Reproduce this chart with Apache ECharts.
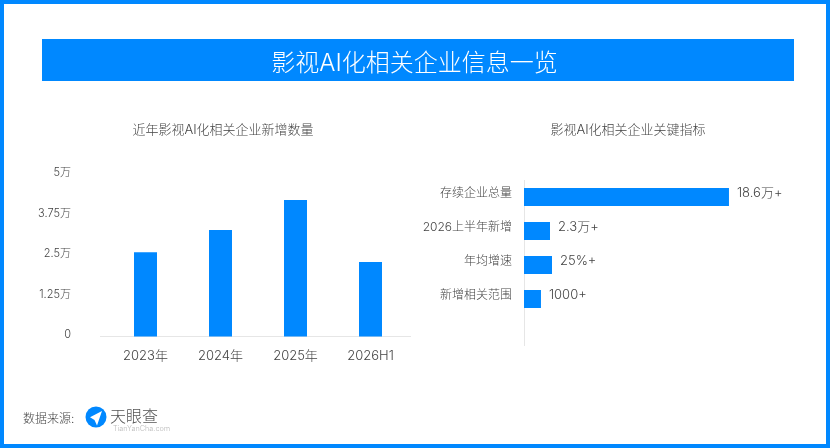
<!DOCTYPE html>
<html lang="zh-CN">

<head>
  <meta charset="UTF-8">
  <title>影视AI化相关企业信息一览</title>
  <style>
    html, body { margin: 0; padding: 0; background: #fff; }
    #chart { width: 830px; height: 448px; }
  </style>
</head>

<body>
  <div id="chart"></div>
  <script src="https://cdn.jsdelivr.net/npm/echarts@6/dist/echarts.min.js"></script>
  <script>
    var years = ['2023年', '2024年', '2025年', '2026H1'];
    var newCompanies = [2.6, 3.29, 4.21, 2.3];
    var yTicks = { 0: '0', 1.25: '1.25万', 2.5: '2.5万', 3.75: '3.75万', 5: '5万' };

    // the last category is empty, the source leaves a gap under the four bars
    var metrics = ['存续企业总量', '2026上半年新增', '年均增速', '新增相关范围', ''];
    var metricBars = [18.6, 2.36, 2.54, 1.54];
    var metricLabels = ['18.6万+', '2.3万+', '25%+', '1000+'];

    var BLUE = '#0088ff';
    var FONT = 'Inter, "Noto Sans CJK SC", sans-serif';
    var TEXT = '#444';
    var WEIGHT = 300;

    var myChart = echarts.init(document.querySelector('#chart'));

    function titleStyle(color, size) {
      return { color: color, fontSize: size, fontWeight: WEIGHT, fontFamily: FONT };
    }

    var option = {
      animation: false,
      textStyle: { fontFamily: FONT },
      title: [
        { text: '影视AI化相关企业信息一览', left: 414.5, top: 52, padding: 0, textAlign: 'center',
          textStyle: titleStyle('#fff', 24) },
        { text: '近年影视AI化相关企业新增数量', left: 223, top: 124, padding: 0, textAlign: 'center',
          textStyle: titleStyle(TEXT, 13) },
        { text: '影视AI化相关企业关键指标', left: 628, top: 124, padding: 0, textAlign: 'center',
          textStyle: titleStyle(TEXT, 13) },
        { text: '数据来源:', left: 23, top: 413, padding: 0,
          textStyle: titleStyle(TEXT, 12) },
        { text: '天眼查', left: 110, top: 409, padding: 0,
          textStyle: titleStyle('#555', 16) },
        { text: 'TianYanCha.com', left: 113, top: 425, padding: 0,
          textStyle: titleStyle('#bbb', 7.3) }
      ],
      grid: [
        { left: 108, top: 174.5, width: 300, height: 162 },
        { left: 524, top: 180, width: 220.4, height: 170 }
      ],
      xAxis: [
        {
          gridIndex: 0,
          type: 'category',
          data: years,
          axisLine: { show: false },
          axisTick: { show: false },
          axisLabel: { color: TEXT, fontSize: 13, fontWeight: WEIGHT, margin: 13, fontFamily: FONT }
        },
        {
          gridIndex: 1,
          type: 'value',
          min: 0,
          max: 20,
          show: false
        }
      ],
      yAxis: [
        {
          gridIndex: 0,
          type: 'value',
          min: 0,
          max: 5,
          interval: 1.25,
          axisLine: { show: false },
          axisTick: { show: false },
          splitLine: { show: false },
          axisLabel: {
            color: TEXT,
            fontSize: 11,
            fontWeight: WEIGHT,
            margin: 37,
            verticalAlign: 'bottom',
            lineHeight: 3,
            fontFamily: FONT,
            formatter: function (v) { return yTicks[v]; }
          }
        },
        {
          gridIndex: 1,
          type: 'category',
          inverse: true,
          data: metrics,
          axisLine: { show: false },
          axisTick: { show: false },
          axisLabel: {
            color: TEXT,
            fontSize: 12,
            fontWeight: WEIGHT,
            margin: 12,
            verticalAlign: 'bottom',
            lineHeight: 7,
            fontFamily: FONT
          }
        }
      ],
      series: [
        {
          type: 'bar',
          xAxisIndex: 0,
          yAxisIndex: 0,
          data: newCompanies,
          barWidth: 23,
          itemStyle: { color: BLUE }
        },
        {
          type: 'bar',
          xAxisIndex: 1,
          yAxisIndex: 1,
          data: metricBars,
          barWidth: 18,
          itemStyle: { color: BLUE },
          label: {
            show: true,
            position: 'right',
            distance: 8,
            offset: [0, -3.5],
            color: TEXT,
            fontSize: 13,
            fontWeight: WEIGHT,
            fontFamily: FONT,
            formatter: function (p) { return metricLabels[p.dataIndex]; }
          }
        }
      ],
      graphic: [
        // outer frame
        { type: 'rect', silent: true, z: -1, shape: { x: 2, y: 2, width: 826, height: 444 },
          style: { fill: 'none', stroke: BLUE, lineWidth: 4 } },
        // title band
        { type: 'rect', silent: true, z: -1, shape: { x: 42, y: 39, width: 752, height: 42 },
          style: { fill: BLUE } },
        // axis lines run past the plot areas in the source
        { type: 'line', silent: true, shape: { x1: 100, y1: 336.5, x2: 411, y2: 336.5 },
          style: { stroke: '#e6e6e6', lineWidth: 1 } },
        { type: 'line', silent: true, shape: { x1: 524.5, y1: 180, x2: 524.5, y2: 346 },
          style: { stroke: '#e6e6e6', lineWidth: 1 } },
        // logo
        { type: 'circle', silent: true, shape: { cx: 96, cy: 417, r: 10.5 }, style: { fill: BLUE } },
        { type: 'polygon', silent: true,
          shape: { points: [[102, 411], [90, 417.3], [94.5, 420], [97, 425.5]] },
          style: { fill: '#fff' } }
      ]
    };

    myChart.setOption(option);
  </script>
</body>

</html>
